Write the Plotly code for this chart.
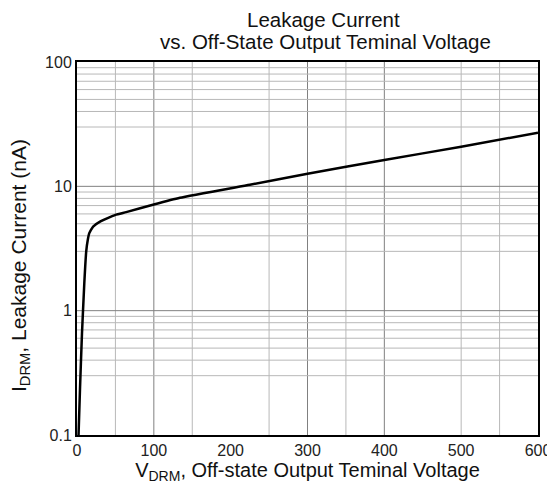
import math
import plotly.graph_objects as go

# Data
v_drm = [2, 4, 6.5, 9.5, 12, 14, 16, 18, 21, 30, 50, 64, 100, 134, 225, 300, 400, 500, 600]
i_drm = [0.1, 0.245, 0.66, 1.66, 3.0, 3.7, 4.2, 4.45, 4.75, 5.2, 5.9, 6.2, 7.15, 8.1, 10.3, 12.6, 16.3, 20.8, 27]

x_ticks = [0, 100, 200, 300, 400, 500, 600]
y_ticks = [0.1, 1, 10, 100]
y_ticklabels = ["0.1", "1", "10", "100"]

x_grid_light = [50, 150, 250, 350, 500, 550]
x_grid_dark = [100, 300, 400]
y_grid_minor = [m * d for d in (0.1, 1, 10) for m in (3, 4, 5, 6, 7, 8, 9)]
y_grid_major = [1, 10]

title_lines = ["Leakage Current", "vs. Off-State Output Teminal Voltage"]
x_title = "V<sub>DRM</sub>, Off-state Output Teminal Voltage"
y_title = "I<sub>DRM</sub>, Leakage Current (nA)"

FONT = "Liberation Sans, Arial, sans-serif"

fig = go.Figure()
fig.add_trace(go.Scatter(x=v_drm, y=i_drm, mode="lines",
                         line=dict(color="black", width=2.5, shape="spline", smoothing=0.4),
                         showlegend=False, hoverinfo="skip"))

shapes = []
for xv in x_grid_light:
    shapes.append(dict(type="line", xref="x", yref="paper", x0=xv, x1=xv, y0=0, y1=1,
                       line=dict(color="#b8b8b8", width=1), layer="below"))
for xv in x_grid_dark:
    shapes.append(dict(type="line", xref="x", yref="paper", x0=xv, x1=xv, y0=0, y1=1,
                       line=dict(color="#808080", width=1), layer="below"))
for yv in y_grid_minor:
    p = (math.log10(yv) + 1) / 3
    shapes.append(dict(type="line", xref="paper", yref="paper", x0=0, x1=1, y0=p, y1=p,
                       line=dict(color="#b8b8b8", width=1), layer="below"))
for yv in y_grid_major:
    p = (math.log10(yv) + 1) / 3
    shapes.append(dict(type="line", xref="paper", yref="paper", x0=0, x1=1, y0=p, y1=p,
                       line=dict(color="#808080", width=1), layer="below"))

W, H = 547, 484
L, R, T, B = 69, 17, 54, 57
PW, PH = W - L - R, H - T - B


def px_x(page_x):
    return (page_x - 8 - L) / PW


def px_y(page_y):
    return (H - B + 8 - page_y) / PH


annotations = [
    dict(text=title_lines[0], xref="paper", yref="paper", x=px_x(323), y=px_y(20),
         xanchor="center", yanchor="middle", showarrow=False,
         font=dict(size=20.5, color="#111111")),
    dict(text=title_lines[1], xref="paper", yref="paper", x=px_x(325), y=px_y(42),
         xanchor="center", yanchor="middle", showarrow=False,
         font=dict(size=20.5, color="#111111")),
    dict(text=y_title, xref="paper", yref="paper", x=px_x(20), y=px_y(266),
         xanchor="center", yanchor="middle", showarrow=False, textangle=-90,
         font=dict(size=21, color="#111111")),
]

fig.update_layout(
    width=W, height=H,
    margin=dict(l=L, r=R, t=T, b=B, autoexpand=False),
    paper_bgcolor="white", plot_bgcolor="white",
    font=dict(family=FONT, color="#222222", size=16),
    shapes=shapes,
    annotations=annotations,
    xaxis=dict(range=[0, 600], tickvals=x_ticks, ticks="", showgrid=False, zeroline=False,
               showline=True, linecolor="black", linewidth=2, mirror=True,
               tickfont=dict(size=16), automargin=False,
               title=dict(text=x_title, font=dict(size=20, color="#111111"), standoff=0)),
    yaxis=dict(type="log", range=[-1, 2], tickvals=y_ticks, ticktext=y_ticklabels,
               ticks="", showgrid=False, zeroline=False,
               showline=True, linecolor="black", linewidth=2, mirror=True,
               tickfont=dict(size=16), automargin=False),
)

fig.write_html("out.html")
